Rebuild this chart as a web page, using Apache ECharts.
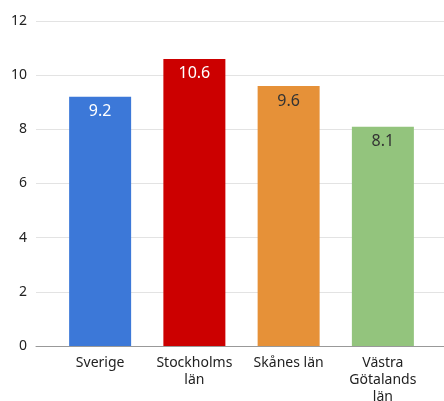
<!DOCTYPE html>
<html>
<head>
<meta charset="utf-8">
<script src="https://cdn.jsdelivr.net/npm/echarts@6/dist/echarts.min.js"></script>
<style>
html,body{margin:0;padding:0;background:#fff;}
#chart{width:444px;height:401px;}
</style>
</head>
<body>
<div id="chart"></div>
<script>
var categories = ['Sverige', 'Stockholms\nlän', 'Skånes län', 'Västra\nGötalands\nlän'];
var values = [9.2, 10.6, 9.6, 8.1];
var yTicks = [0, 2, 4, 6, 8, 10, 12];

// bar / label colours, one per category
var barColors = ['#3c78d8', '#cc0000', '#e69138', '#93c47d'];
var labelColors = ['#ffffff', '#ffffff', '#333333', '#333333'];

var chart = echarts.init(document.getElementById('chart'));
var font = 'Noto Sans';

var option = {
	animation: false,
	grid: [
		{ left: 36, right: 0, top: 21, bottom: 55, outerBoundsMode: 'none' },
		{ left: 53, right: 14, top: 21, bottom: 55, outerBoundsMode: 'none' }
	],
	xAxis: [{
		gridIndex: 0,
		type: 'value',
		min: 0,
		max: 1,
		axisLine: { show: true, lineStyle: { color: '#999', width: 1 } },
		axisTick: { show: false },
		axisLabel: { show: false },
		splitLine: { show: false }
	}, {
		gridIndex: 1,
		type: 'category',
		data: categories,
		axisLine: { show: false },
		axisTick: { show: false },
		axisLabel: {
			color: '#222',
			fontSize: 14,
			fontFamily: font,
			lineHeight: 17,
			margin: 9,
			interval: 0
		}
	}],
	yAxis: [{
		gridIndex: 0,
		type: 'value',
		min: yTicks[0],
		max: yTicks[yTicks.length - 1],
		interval: yTicks[1] - yTicks[0],
		axisLine: { show: false },
		axisTick: { show: false },
		axisLabel: {
			color: '#222',
			fontSize: 14,
			fontFamily: font,
			margin: 9
		},
		splitLine: { lineStyle: { color: '#e3e3e3', width: 1 } }
	}, {
		gridIndex: 1,
		type: 'value',
		min: yTicks[0],
		max: yTicks[yTicks.length - 1],
		show: false
	}],
	series: [{
		type: 'bar',
		xAxisIndex: 1,
		yAxisIndex: 1,
		barWidth: 62,
		data: values.map(function (v, i) {
			return {
				value: v,
				itemStyle: { color: barColors[i] },
				label: { color: labelColors[i] }
			};
		}),
		label: {
			show: true,
			position: 'insideTop',
			distance: 7,
			fontSize: 16,
			fontFamily: font,
			formatter: function (p) { return p.value.toFixed(1); }
		}
	}]
};
chart.setOption(option);
</script>
</body>
</html>
